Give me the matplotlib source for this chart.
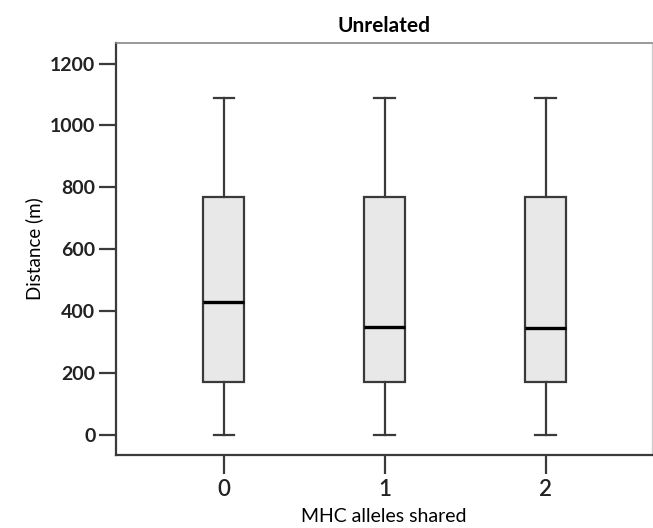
import matplotlib
matplotlib.use('Agg')
import matplotlib.pyplot as plt

# MHC alleles shared -> box stats (distance in m)
groups = ['0', '1', '2']
whisker_low = [0, 0, 0]
q1 = [170, 170, 170]
medians = [430, 350, 345]
q3 = [770, 770, 770]
whisker_high = [1090, 1090, 1090]

plt.rcParams['font.family'] = ['Lato', 'DejaVu Sans']

fig = plt.figure(figsize=(6.53, 5.28), dpi=100)
ax = fig.add_axes([0.178, 0.138, 0.820, 0.781])

stats = []
for i, g in enumerate(groups):
    stats.append(dict(label=g, whislo=whisker_low[i], q1=q1[i], med=medians[i],
                      q3=q3[i], whishi=whisker_high[i], fliers=[]))

line_c = '#3a3a3a'
ax.bxp(stats, positions=range(len(groups)), widths=0.255, patch_artist=True,
       showfliers=False,
       boxprops=dict(facecolor='#e8e8e8', edgecolor=line_c, linewidth=1.6),
       whiskerprops=dict(color=line_c, linewidth=1.6),
       capprops=dict(color=line_c, linewidth=1.6),
       medianprops=dict(color='black', linewidth=2.4),
       capwidths=0.13)

ax.set_xlim(-0.67, 2.66)
ax.set_ylim(-65, 1267)
ax.set_yticks([0, 200, 400, 600, 800, 1000, 1200])
ax.tick_params(axis='y', length=12, width=1.6, color=line_c, labelsize=14, pad=3)
ax.tick_params(axis='x', length=14, width=1.6, color=line_c, labelsize=16, pad=3)
for lab in ax.get_yticklabels():
    lab.set_fontweight('bold')
    lab.set_color('#222222')
for lab in ax.get_xticklabels():
    lab.set_color('#222222')
    lab.set_fontweight('semibold')

for s in ['left', 'bottom']:
    ax.spines[s].set_color(line_c)
    ax.spines[s].set_linewidth(1.6)
ax.spines['top'].set_color('#888888')
ax.spines['top'].set_linewidth(1.2)
ax.spines['right'].set_color('#cccccc')
ax.spines['right'].set_linewidth(1.0)

ax.set_ylabel('Distance (m)', fontsize=13.5, labelpad=5)
ax.set_xlabel('MHC alleles shared', fontsize=14, labelpad=6)
ax.set_title('Unrelated', fontsize=15, fontweight='bold', pad=8)

fig.savefig('out.png', dpi=100)
